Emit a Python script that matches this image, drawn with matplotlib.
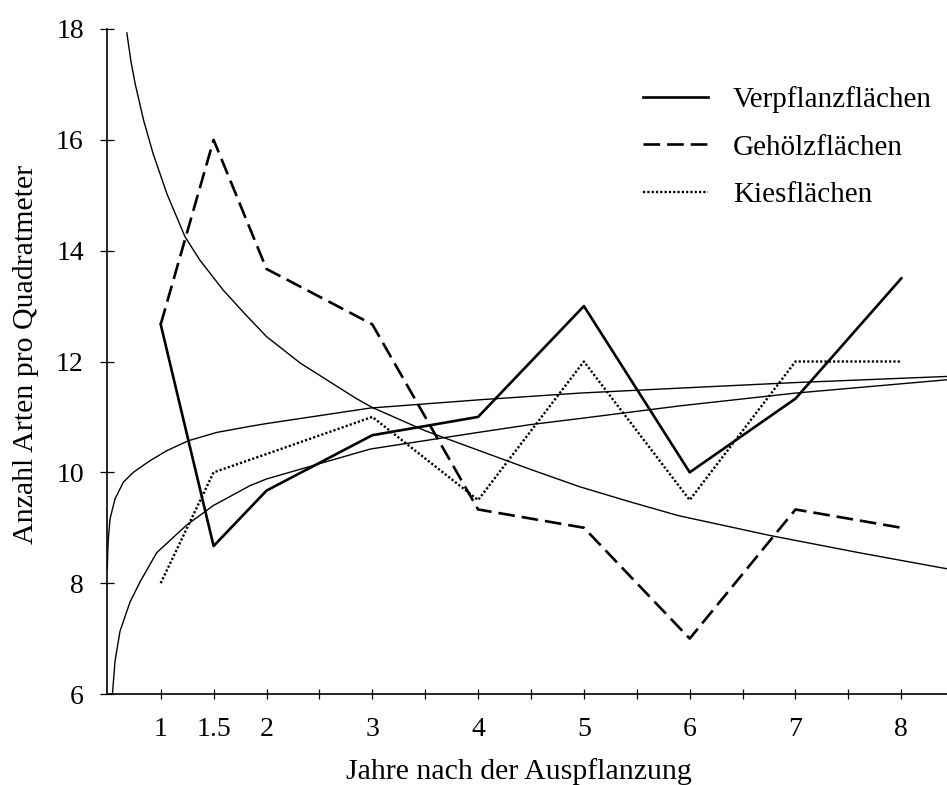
import matplotlib.pyplot as plt

plt.rcParams['font.family'] = ['Liberation Serif', 'DejaVu Serif']
plt.rcParams['lines.scale_dashes'] = False

# Messwerte (Jahre nach der Auspflanzung)
jahre = [1, 1.5, 2, 3, 4, 5, 6, 7, 8]
verpflanz = [12.67, 8.67, 9.67, 10.67, 11.0, 13.0, 10.0, 11.33, 13.5]
gehoelz = [12.67, 16.0, 13.67, 12.67, 9.33, 9.0, 7.0, 9.33, 9.0]
kies = [8.0, 10.0, 10.33, 11.0, 9.5, 12.0, 9.5, 12.0, 12.0]

fallend_x = [0.68, 0.72, 0.76, 0.84, 0.93, 1.06, 1.23, 1.37, 1.59, 1.80, 2.00, 2.32,
             2.85, 3.00, 3.50, 4.00, 4.50, 4.96, 5.45, 5.89, 6.76, 7.60, 8.43]
fallend_y = [17.93, 17.40, 17.00, 16.34, 15.74, 15.02, 14.25, 13.83, 13.29, 12.85, 12.45, 11.97,
             11.33, 11.17, 10.75, 10.40, 10.05, 9.74, 9.46, 9.22, 8.86, 8.55, 8.26]

steigend1_x = [0.495, 0.50, 0.505, 0.521, 0.568, 0.646, 0.741, 0.899, 1.057, 1.261, 1.529,
               1.844, 2.0, 2.98, 4.02, 4.96, 5.91, 7.0, 8.43]
steigend1_y = [8.25, 8.6, 8.80, 9.16, 9.52, 9.82, 10.0, 10.21, 10.39, 10.57, 10.72,
               10.83, 10.88, 11.16, 11.31, 11.43, 11.52, 11.62, 11.73]

steigend2_x = [0.543, 0.546, 0.568, 0.615, 0.710, 0.804, 0.962, 1.246, 1.497, 1.844, 2.0,
               2.98, 4.0, 4.49, 5.0, 5.91, 7.0, 8.43]
steigend2_y = [6.0, 6.05, 6.59, 7.13, 7.66, 8.02, 8.55, 9.05, 9.40, 9.76, 9.88,
               10.42, 10.72, 10.86, 10.98, 11.20, 11.43, 11.67]

x_major = [1, 1.5, 2, 3, 4, 5, 6, 7, 8]
x_labels = ['1', '1.5', '2', '3', '4', '5', '6', '7', '8']
x_minor = [2.5, 3.5, 4.5, 5.5, 6.5, 7.5]
y_ticks = [6, 8, 10, 12, 14, 16, 18]

fig = plt.figure(figsize=(9.47, 7.85), dpi=100)
ax = fig.add_axes([107 / 947, 91 / 785, 840 / 947, 665 / 785])

# Trendkurven (duenn)
ax.plot(fallend_x, fallend_y, color='black', lw=1.0)
ax.plot(steigend1_x, steigend1_y, color='black', lw=1.0)
ax.plot(steigend2_x, steigend2_y, color='black', lw=1.0)

# Messreihen
ax.plot(jahre, verpflanz, color='black', lw=1.9, label='Verpflanzflächen')
ax.plot(jahre, gehoelz, color='black', lw=1.9, linestyle=(0, (12, 5)), label='Gehölzflächen')
ax.plot(jahre, kies, color='black', lw=1.7, linestyle=(0, (1.6, 1.5)), label='Kiesflächen')

ax.set_xlim(0.4924, 8.432)
ax.set_ylim(6, 18)

ax.spines['top'].set_visible(False)
ax.spines['right'].set_visible(False)
ax.spines['left'].set_linewidth(1.2)
ax.spines['bottom'].set_linewidth(1.2)

ax.set_xticks(x_major)
ax.set_xticklabels(x_labels)
ax.set_xticks(x_minor, minor=True)
ax.set_yticks(y_ticks)

ax.tick_params(axis='x', which='both', direction='inout', length=6.5, width=0.9,
               labelsize=20, pad=13)
ax.tick_params(axis='y', direction='inout', length=9.4, width=0.9, labelsize=20, pad=12)

ax.set_xlabel('Jahre nach der Auspflanzung', fontsize=21.5, va='top')
ax.xaxis.set_label_coords(0.49, -0.096)
ax.set_ylabel('Anzahl Arten pro Quadratmeter', fontsize=21.5)
ax.yaxis.set_label_coords(-0.081, 0.51)

ax.legend(loc='upper left', bbox_to_anchor=(643 / 947, 1 - 86 / 785),
          bbox_transform=fig.transFigure, frameon=False, fontsize=21,
          handlelength=2.23, handletextpad=0.86, labelspacing=0.73,
          borderpad=0, borderaxespad=0)

fig.savefig('out.png', dpi=100)
